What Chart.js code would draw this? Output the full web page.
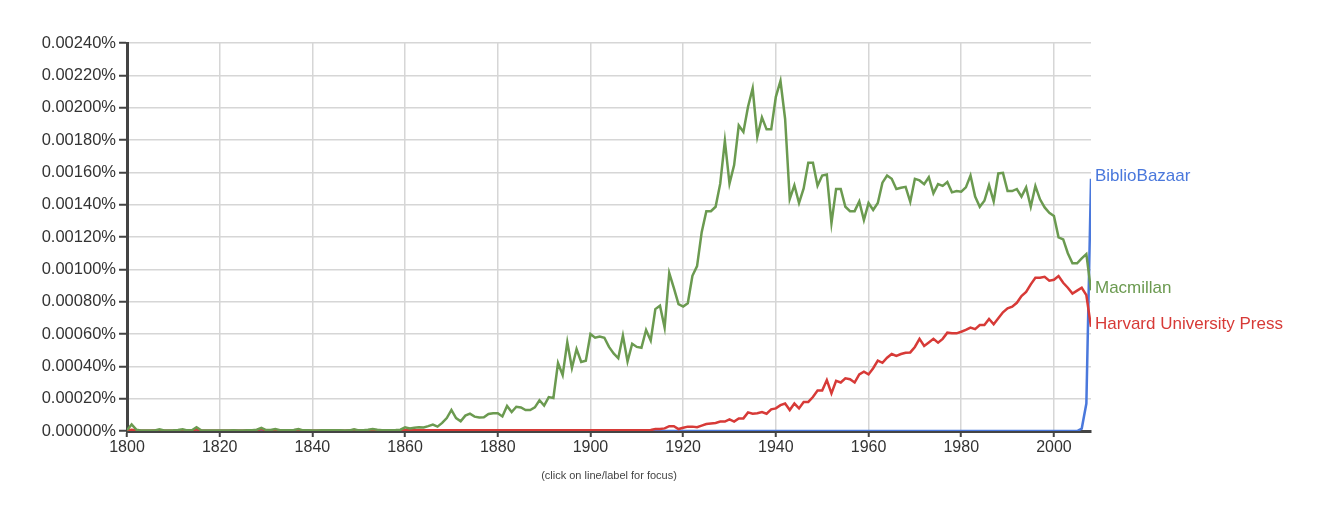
<!DOCTYPE html>
<html>
<head>
<meta charset="utf-8">
<script src="https://cdn.jsdelivr.net/npm/chart.js@4"></script>
<style>
  body { margin: 0; background: #fff; }
</style>
</head>
<body>
<canvas id="ngram" width="1335" height="507"></canvas>
<script>
'use strict';

// values are in units of 0.00001 %
let years = Array.from({ length: 209 }, (_, i) => 1800 + i);

let macmillan = [
    0.5, 4, 0.8, 0.3, 0.3, 0.3, 0.3, 1, 0.3, 0.3,            // 1800
    0.4, 0.6, 1, 0.4, 0.5, 2.3, 0.5, 0.3, 0.3, 0.3,          // 1810
    0.3, 0.3, 0.3, 0.4, 0.3, 0.3, 0.4, 0.5, 0.8, 2,          // 1820
    0.6, 0.6, 1.2, 0.5, 0.4, 0.4, 0.6, 1.2, 0.4, 0.4,        // 1830
    0.3, 0.3, 0.4, 0.4, 0.4, 0.5, 0.4, 0.3, 0.4, 1,          // 1840
    0.4, 0.5, 0.8, 1.2, 0.8, 0.5, 0.5, 0.5, 0.6, 0.8,        // 1850
    2.3, 1.5, 2, 2.3, 2.2, 3, 4, 2.7, 5, 8,                  // 1860
    13, 8, 6, 9.5, 10.7, 8.9, 8.3, 8.5, 10.5, 11,            // 1870
    11, 9, 15.5, 11.7, 15, 14.6, 13, 13, 14.6, 19,           // 1880
    15.7, 21, 20.4, 42, 34.6, 55, 39, 50.7, 42.7, 43.5,      // 1890
    60, 57.7, 58.5, 57.7, 52, 48, 45, 59, 43, 54,            // 1900
    52, 51.5, 62.5, 56, 75.4, 77.5, 64, 97.7, 88.4, 78.5,    // 1910
    77, 79, 96, 102, 123, 136, 136, 138.7, 153, 179.5,       // 1920
    153, 164.5, 189, 185, 200.6, 212, 182, 194, 186.6, 186.6, // 1930
    206.7, 216.5, 193, 143.5, 152, 141, 150, 166, 166, 151.7, // 1940
    158, 158.7, 128.6, 149.7, 149.7, 138.7, 136, 136, 142, 130.5, // 1950
    141, 136.7, 141, 153.6, 158, 156, 149.7, 150.5, 151, 141.8,   // 1960
    156, 155, 152.7, 157, 147, 152.7, 151.6, 154, 147.6, 148.4,   // 1970
    148, 150.7, 158, 145, 138.7, 142.4, 152, 142, 159.3, 159.7,   // 1980
    148.4, 148.4, 149.7, 145, 150.7, 138.7, 151.5, 143.3, 138.3, 135, // 1990
    133, 119.8, 118.5, 110, 103.7, 103.7, 106.8, 109.5, 87         // 2000
];

let harvard = [
    0.3, 0.8, 0.3, 0.2, 0.2, 0.2, 0.3, 0.4, 0.2, 0.2,        // 1800
    0.2, 0.3, 0.4, 0.2, 0.3, 1, 0.3, 0.2, 0.2, 0.2,          // 1810
    0.2, 0.2, 0.2, 0.2, 0.2, 0.2, 0.3, 0.3, 0.5, 1.2,        // 1820
    0.4, 0.3, 0.5, 0.3, 0.2, 0.3, 0.4, 0.6, 0.3, 0.2,        // 1830
    0.2, 0.2, 0.2, 0.3, 0.2, 0.3, 0.2, 0.2, 0.3, 0.6,        // 1840
    0.3, 0.3, 0.4, 0.5, 0.4, 0.3, 0.3, 0.3, 0.3, 0.4,        // 1850
    0.6, 0.4, 0.4, 0.5, 0.4, 0.4, 0.5, 0.4, 0.4, 0.5,        // 1860
    0.5, 0.4, 0.4, 0.4, 0.5, 0.4, 0.4, 0.4, 0.5, 0.5,        // 1870
    0.5, 0.4, 0.5, 0.4, 0.5, 0.5, 0.4, 0.4, 0.5, 0.5,        // 1880
    0.5, 0.5, 0.5, 0.5, 0.5, 0.5, 0.5, 0.5, 0.5, 0.5,        // 1890
    0.5, 0.5, 0.5, 0.5, 0.5, 0.5, 0.5, 0.5, 0.5, 0.5,        // 1900
    0.5, 0.5, 0.5, 0.6, 1.2, 1.2, 1.6, 3, 3, 1.2,            // 1910
    2, 2.7, 2.7, 2.3, 3.3, 4.3, 4.7, 5, 5.8, 5.8,            // 1920
    7.2, 5.8, 7.8, 7.8, 11.5, 10.7, 11, 11.7, 10.7, 13.4,    // 1930
    14, 16, 17, 13, 17, 14, 18, 18, 21, 25,                  // 1940
    25, 31.5, 23.3, 31, 30, 32.6, 32, 30, 35, 36.7,          // 1950
    35, 38.8, 43.5, 42.2, 45.3, 47.6, 46.4, 47.6, 48.4, 48.6, // 1960
    52, 57, 52.6, 54.8, 57, 54.6, 57, 60.8, 60.4, 60.4,      // 1970
    61.4, 62.5, 64, 63, 65.5, 65.5, 69.3, 66, 69.7, 73.4,    // 1980
    75.9, 76.9, 79.3, 83.5, 86, 90.7, 94.8, 94.8, 95.4, 93,  // 1990
    93.5, 95.8, 91.7, 88.6, 85, 86.8, 88.6, 84, 64.5         // 2000
];

// BiblioBazaar sits on zero until the last few years
let biblioYears = [1800, 2005, 2006, 2007, 2008];
let biblio = [0, 0, 1.5, 17, 156];

let xTicks = [1800, 1820, 1840, 1860, 1880, 1900, 1920, 1940, 1960, 1980, 2000];

let seriesNames = ['Macmillan', 'Harvard University Press', 'BiblioBazaar'];
let seriesColors = ['#6b9a50', '#d73a37', '#4a78dc'];

function points(xs, ys) {
    return xs.map((x, i) => ({ x: x, y: ys[i] }));
}

let fontFamily = "'Liberation Sans', Arial, sans-serif";

let endLabels = {
    id: 'endLabels',
    afterDatasetsDraw(chart) {
        let ctx = chart.ctx;
        ctx.save();
        ctx.font = '17px ' + fontFamily;
        ctx.textAlign = 'left';
        ctx.textBaseline = 'middle';
        chart.data.datasets.forEach((ds, i) => {
            let meta = chart.getDatasetMeta(i);
            let last = meta.data[meta.data.length - 1];
            ctx.fillStyle = ds.borderColor;
            ctx.fillText(ds.label, chart.chartArea.right + 4, last.y - 2);
        });
        ctx.restore();
    }
};

let ngramCtx = document.getElementById('ngram').getContext('2d');
let ngramChart = new Chart(ngramCtx, {
    type: 'line',
    data: {
        datasets: [{
            label: seriesNames[0],
            data: points(years, macmillan),
            borderColor: seriesColors[0]
        }, {
            label: seriesNames[1],
            data: points(years, harvard),
            borderColor: seriesColors[1]
        }, {
            label: seriesNames[2],
            data: points(biblioYears, biblio),
            borderColor: seriesColors[2]
        }]
    },
    options: {
        responsive: false,
        animation: false,
        elements: {
            line: { borderWidth: 2.5, tension: 0 },
            point: { radius: 0 }
        },
        layout: {
            padding: { top: 43, right: 244, bottom: 0, left: 0 }
        },
        plugins: {
            legend: { display: false },
            tooltip: { enabled: false }
        },
        scales: {
            x: {
                type: 'linear',
                min: 1800,
                max: 2008,
                afterBuildTicks: scale => {
                    scale.ticks = xTicks.map(v => ({ value: v }));
                },
                afterFit: scale => {
                    scale.height = 76;
                },
                ticks: {
                    color: '#333',
                    padding: 1,
                    maxRotation: 0,
                    font: { family: fontFamily, size: 16 },
                    callback: v => String(v)
                },
                grid: {
                    color: '#d6d6d6',
                    lineWidth: 1.5,
                    tickColor: '#444',
                    tickLength: 6,
                    tickWidth: 2
                },
                border: { color: '#444', width: 3 },
                title: {
                    display: true,
                    text: '(click on line/label for focus)',
                    color: '#444',
                    font: { family: fontFamily, size: 11 },
                    padding: { top: 0, bottom: 24 }
                }
            },
            y: {
                min: 0,
                max: 240,
                afterFit: scale => {
                    scale.width = 127;
                },
                ticks: {
                    stepSize: 20,
                    color: '#333',
                    padding: 3,
                    font: { family: fontFamily, size: 16.5 },
                    callback: v => (v / 100000).toFixed(5) + '%'
                },
                grid: {
                    color: '#d6d6d6',
                    lineWidth: 1.5,
                    tickColor: '#444',
                    tickLength: 8,
                    tickWidth: 2
                },
                border: { color: '#444', width: 3 }
            }
        }
    },
    plugins: [endLabels]
});
</script>
</body>
</html>
